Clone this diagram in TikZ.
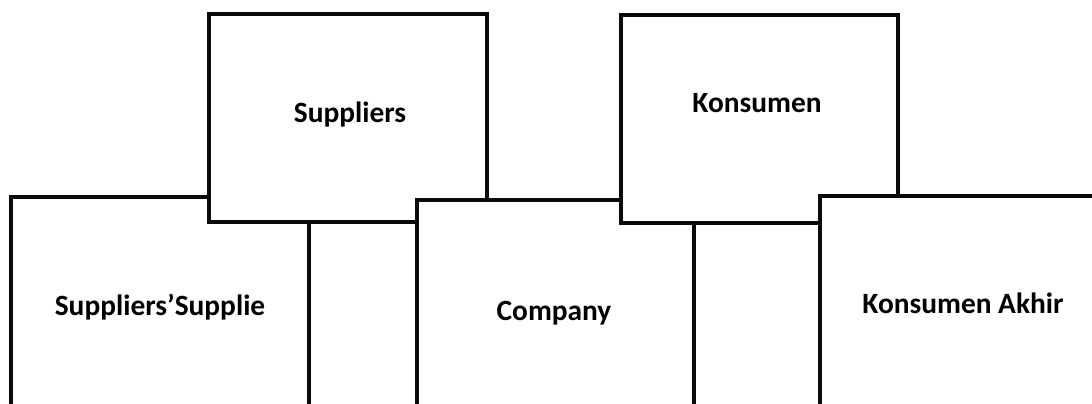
\documentclass[tikz,border=0pt]{standalone}
\usepackage{fontspec}
\setmainfont{Carlito}
\usepackage{xcolor}
\usepackage{tikz}
\usetikzlibrary{calc,shapes,positioning}
\definecolor{linegray}{RGB}{10,10,10}

\begin{document}
\begin{tikzpicture}[x=0.5pt,y=-0.5pt]
          \useasboundingbox (0,0) rectangle (1092,403);
          \clip (0,0) rectangle (1092,403);
          \tikzstyle{chainbox}=[draw=linegray, fill=white, line width=1.6pt, rectangle, inner sep=0pt]
          \tikzstyle{chaintext}=[anchor=base, inner sep=0pt, font=\fontsize{14.7}{17}\selectfont\bfseries]

          % Lower left
          \node[chainbox, minimum width=149pt, minimum height=133pt] (SSbox) at (160,330) {};
          \node[chaintext] (SS) at (160,315) {Suppliers’Supplie};

          % Upper left
          \node[chainbox, minimum width=139pt, minimum height=104pt] (SUPbox) at (348,118) {};
          \node[chaintext] (SUP) at (350,122) {Suppliers};

          % Middle
          \node[chainbox, minimum width=138.5pt, minimum height=130pt] (COMbox) at (555.5,330) {};
          \node[chaintext] (COM) at (554,320) {Company};

          % Upper right
          \node[chainbox, minimum width=138.5pt, minimum height=104pt] (KONbox) at (759.5,119) {};
          \node[chaintext] (KON) at (757,112) {Konsumen};

          % Lower right
          \node[chainbox, minimum width=150pt, minimum height=132pt] (KAbox) at (970,328) {};
          \node[chaintext] (KA) at (963,313) {Konsumen Akhir};
\end{tikzpicture}
\end{document}
